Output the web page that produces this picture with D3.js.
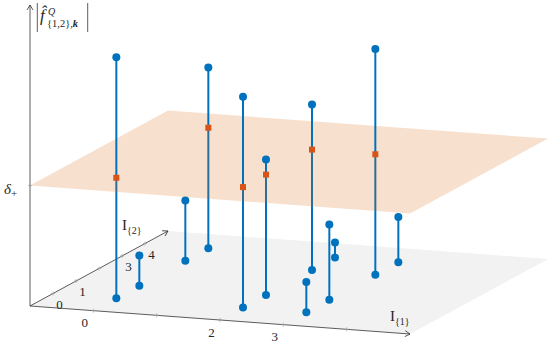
<!DOCTYPE html>
<html>
<head>
<meta charset="utf-8">
<script src="https://cdn.jsdelivr.net/npm/d3@7"></script>
<style>
  body { margin: 0; background: #fff; }
</style>
</head>
<body>
<div id="chart"></div>
<script>
// grid of (I{1}, I{2}) index pairs and the stem heights
const i1Values = [0, 0, 0, 0, 2, 2, 2, 2, 3, 3, 3, 3];
const i2Values = [0, 1, 3, 4, 0, 1, 3, 4, 0, 1, 3, 4];
const magnitudes = [2.0, 0.25, 0.5, 1.5, 1.75, 1.125, 1.375, 0.125, 0.25, 0.625, 1.875, 0.375];
const deltaPlus = 1;
const i1Ticks = [0, 1, 2, 3, 4];
const i1TickLabels = [0, 2, 3];
const i2Ticks = [0, 1, 2, 3, 4];
const i2TickLabels = [0, 1, 3, 4];

const width = 549, height = 347;
const blue = "#0072BD", orange = "#D95319", planeFill = "#D7640A";

// oblique 3D projection: one scale per data axis, combined with the screen direction of each axis
const origin = [30, 306];
const dirX = [380, 28];    // screen vector of the full I{1} axis
const dirY = [138, -75];   // screen vector of the full I{2} axis
const xScale = d3.scaleLinear().domain([-1, 5]).range([0, 1]);
const yScale = d3.scaleLinear().domain([-1, 5]).range([0, 1]);
const zScale = d3.scaleLinear().domain([0, 2.5]).range([0, 301]);
const project = (x, y, z) => [
  origin[0] + xScale(x) * dirX[0] + yScale(y) * dirY[0],
  origin[1] + xScale(x) * dirX[1] + yScale(y) * dirY[1] - zScale(z)
];

const svg = d3.select("#chart").append("svg").attr("width", width).attr("height", height)
  .attr("font-family", "'Liberation Serif', 'DejaVu Serif', serif").attr("fill", "#262626");
const defs = svg.append("defs");
defs.append("marker").attr("id", "arrow").attr("viewBox", "-1 -4 7 8")
  .attr("refX", 5).attr("refY", 0).attr("markerWidth", 7).attr("markerHeight", 8)
  .attr("markerUnits", "userSpaceOnUse").attr("orient", "auto")
  .append("path").attr("d", "M0,-3 L5,0 L0,3").attr("fill", "none").attr("stroke", "#333").attr("stroke-width", 0.8);

const [xmin, xmax] = xScale.domain();
const [ymin, ymax] = yScale.domain();
const planeAt = z => [project(xmin, ymin, z), project(xmax, ymin, z), project(xmax, ymax, z), project(xmin, ymax, z)];
const line = d3.line();

// base plane
svg.append("path").attr("d", line(planeAt(0)) + "Z").attr("fill", "#f2f2f2");

// axes
const axisG = svg.append("g").attr("stroke", "#333").attr("stroke-width", 0.8).attr("fill", "none");
axisG.append("path").attr("d", line([project(xmin, ymin, 0), project(xmax, ymin, 0)])).attr("marker-end", "url(#arrow)");
axisG.append("path").attr("d", line([project(xmin, ymin, 0), project(xmin, ymax, 0)])).attr("marker-end", "url(#arrow)");
axisG.append("path").attr("d", line([project(xmin, ymin, 0), project(xmin, ymin, zScale.domain()[1])])).attr("marker-end", "url(#arrow)");

// tick crosses
const tickPts = [
  ...i1Ticks.map(t => project(t, ymin, 0)),
  ...i2Ticks.map(t => project(xmin, t, 0)),
  project(xmin, ymin, deltaPlus)
];
svg.append("g").attr("stroke", "#a0a0a0").attr("stroke-width", 0.7)
  .selectAll("path").data(tickPts).join("path")
  .attr("d", d => `M${d[0] - 2},${d[1]}h4M${d[0]},${d[1] - 2}v4`);

// tick labels
svg.append("g").selectAll("text").data(i1TickLabels).join("text")
  .attr("x", d => project(d, ymin, 0)[0] - 8.5)
  .attr("y", d => project(d, ymin, 0)[1] + 16.5)
  .attr("text-anchor", "middle").attr("font-size", 13).text(d => d);
svg.append("g").selectAll("text").data(i2TickLabels).join("text")
  .attr("x", d => project(xmin, d, 0)[0] + 6.5)
  .attr("y", d => project(xmin, d, 0)[1] + 15)
  .attr("text-anchor", "middle").attr("font-size", 13).text(d => d);

// axis labels
const i1Lab = svg.append("text").attr("x", 390).attr("y", 321).attr("font-size", 15);
i1Lab.append("tspan").text("I");
i1Lab.append("tspan").attr("font-size", 10).attr("dy", 4).text("{1}");
const i2Lab = svg.append("text").attr("x", 122).attr("y", 229.5).attr("font-size", 15);
i2Lab.append("tspan").text("I");
i2Lab.append("tspan").attr("font-size", 10).attr("dy", 4).text("{2}");

const dLab = svg.append("text").attr("x", 4).attr("y", 194).attr("font-size", 15);
dLab.append("tspan").attr("font-style", "italic").text("δ");
dLab.append("tspan").attr("font-size", 11).attr("dy", 3).text("+");

// |f̂^Q_{{1,2},k}|
const zl = svg.append("g");
zl.append("line").attr("x1", 37.3).attr("x2", 37.3).attr("y1", 3).attr("y2", 32).attr("stroke", "#333").attr("stroke-width", 0.8);
zl.append("line").attr("x1", 87.7).attr("x2", 87.7).attr("y1", 3).attr("y2", 32).attr("stroke", "#333").attr("stroke-width", 0.8);
zl.append("text").attr("x", 40).attr("y", 21).attr("font-size", 17).attr("font-style", "italic").text("f\u0302");
zl.append("text").attr("x", 48).attr("y", 15).attr("font-size", 10).attr("font-style", "italic").text("Q");
const sub = zl.append("text").attr("x", 47).attr("y", 27).attr("font-size", 10.5);
sub.append("tspan").text("{1,2},");
sub.append("tspan").attr("font-style", "italic").attr("font-weight", "bold").text("k");

// stems
const stems = magnitudes.map((m, i) => ({ x: i1Values[i], y: i2Values[i], z: m }));
const below = svg.append("g"), above = svg.append("g");
stems.forEach(s => {
  const b = project(s.x, s.y, 0);
  const cut = project(s.x, s.y, Math.min(s.z, deltaPlus));
  const t = project(s.x, s.y, s.z);
  below.append("path").attr("d", line([b, cut])).attr("stroke", blue).attr("stroke-width", 2);
  below.append("circle").attr("cx", b[0]).attr("cy", b[1]).attr("r", 4).attr("fill", blue);
  const layer = s.z > deltaPlus ? above : below;
  if (s.z > deltaPlus) layer.append("path").attr("d", line([cut, t])).attr("stroke", blue).attr("stroke-width", 2);
  layer.append("circle").attr("cx", t[0]).attr("cy", t[1]).attr("r", 4).attr("fill", blue);
});
// threshold plane drawn between the two stem layers
svg.insert("path", () => above.node()).attr("d", line(planeAt(deltaPlus)) + "Z").attr("fill", planeFill).attr("fill-opacity", 0.2);
// crossing markers
above.selectAll("rect").data(stems.filter(s => s.z > deltaPlus)).join("rect")
  .attr("x", d => project(d.x, d.y, deltaPlus)[0] - 3)
  .attr("y", d => project(d.x, d.y, deltaPlus)[1] - 3)
  .attr("width", 6).attr("height", 6).attr("fill", orange);
</script>
</body>
</html>
